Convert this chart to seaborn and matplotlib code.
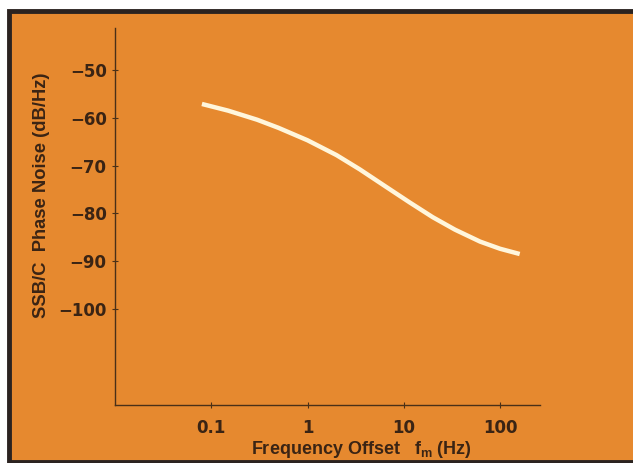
import matplotlib
matplotlib.use("Agg")
import matplotlib.pyplot as plt
from matplotlib.patches import Rectangle
from matplotlib.ticker import FixedLocator, FixedFormatter, NullLocator
import seaborn as sns
import pandas as pd

# SSB/C phase noise versus frequency offset
freq_hz = [0.08, 0.15, 0.3, 0.5, 1, 2, 3.5, 6.5, 11.5, 20, 34, 62, 100, 160]
noise_db = [-57.1, -58.5, -60.4, -62.1, -64.7, -67.8, -70.8, -74.4, -77.7,
            -80.8, -83.4, -85.9, -87.4, -88.5]

x_ticks = [0.1, 1, 10, 100]
x_tick_labels = ["0.1", "1", "10", "100"]
y_ticks = [-50, -60, -70, -80, -90, -100]
y_tick_labels = ["\u221250", "\u221260", "\u221270", "\u221280", "\u221290", "\u2212100"]

df = pd.DataFrame({"freq": freq_hz, "noise": noise_db})

sns.set_theme(style="ticks")
plt.rcParams["font.family"] = ["Liberation Sans", "DejaVu Sans"]

ORANGE = "#E6892F"
INK = "#3a2414"

fig = plt.figure(figsize=(6.33, 4.63), dpi=100)
fig.patch.set_facecolor("white")

W, H = 633, 463
# orange panel; its right edge runs past the figure so only three sides show
panel = Rectangle((9 / W, 1 - 462 / H), (W + 20) / W, (462 - 11) / H,
                  transform=fig.transFigure, facecolor=ORANGE,
                  edgecolor="#2b2320", linewidth=3.5, zorder=-5)
fig.patches.append(panel)

ax = fig.add_axes([115 / W, 1 - 405 / H, (540 - 115) / W, (405 - 28) / H])
ax.set_facecolor("none")
ax.set_zorder(2)

line_ax = sns.lineplot(data=df, x="freq", y="noise", ax=ax, color="#FFF6DC",
                       linewidth=3.2)
for ln in line_ax.get_lines():
    ln.set_solid_joinstyle("round")
    ln.set_solid_capstyle("butt")

ax.set_xscale("log")
ax.set_xlim(0.01, 260)
ax.set_ylim(-120.1, -41.2)

ax.xaxis.set_major_locator(FixedLocator(x_ticks))
ax.xaxis.set_major_formatter(FixedFormatter(x_tick_labels))
ax.xaxis.set_minor_locator(NullLocator())
ax.yaxis.set_major_locator(FixedLocator(y_ticks))
ax.yaxis.set_major_formatter(FixedFormatter(y_tick_labels))

for side in ("top", "right"):
    ax.spines[side].set_visible(False)
for side in ("left", "bottom"):
    ax.spines[side].set_color("#4a3018")
    ax.spines[side].set_linewidth(1.0)

ax.tick_params(axis="both", direction="inout", length=4, width=0.8,
               color="#4a3018", labelcolor=INK, labelsize=12)
ax.tick_params(axis="y", pad=4)
ax.tick_params(axis="x", pad=8)
for lab in ax.get_xticklabels() + ax.get_yticklabels():
    lab.set_fontweight("bold")
    lab.set_family(["DejaVu Sans"])

ax.set_xlabel(r"Frequency Offset   f$_\mathregular{m}$ (Hz)", fontsize=13,
              fontweight="bold", color=INK)
ax.set_ylabel("SSB/C  Phase Noise (dB/Hz)", fontsize=13.2,
              fontweight="bold", color=INK)
ax.yaxis.set_label_coords(-0.153, 0.557)
ax.xaxis.set_label_coords(0.58, -0.09)

fig.savefig("out.png", dpi=100, facecolor=fig.get_facecolor())
